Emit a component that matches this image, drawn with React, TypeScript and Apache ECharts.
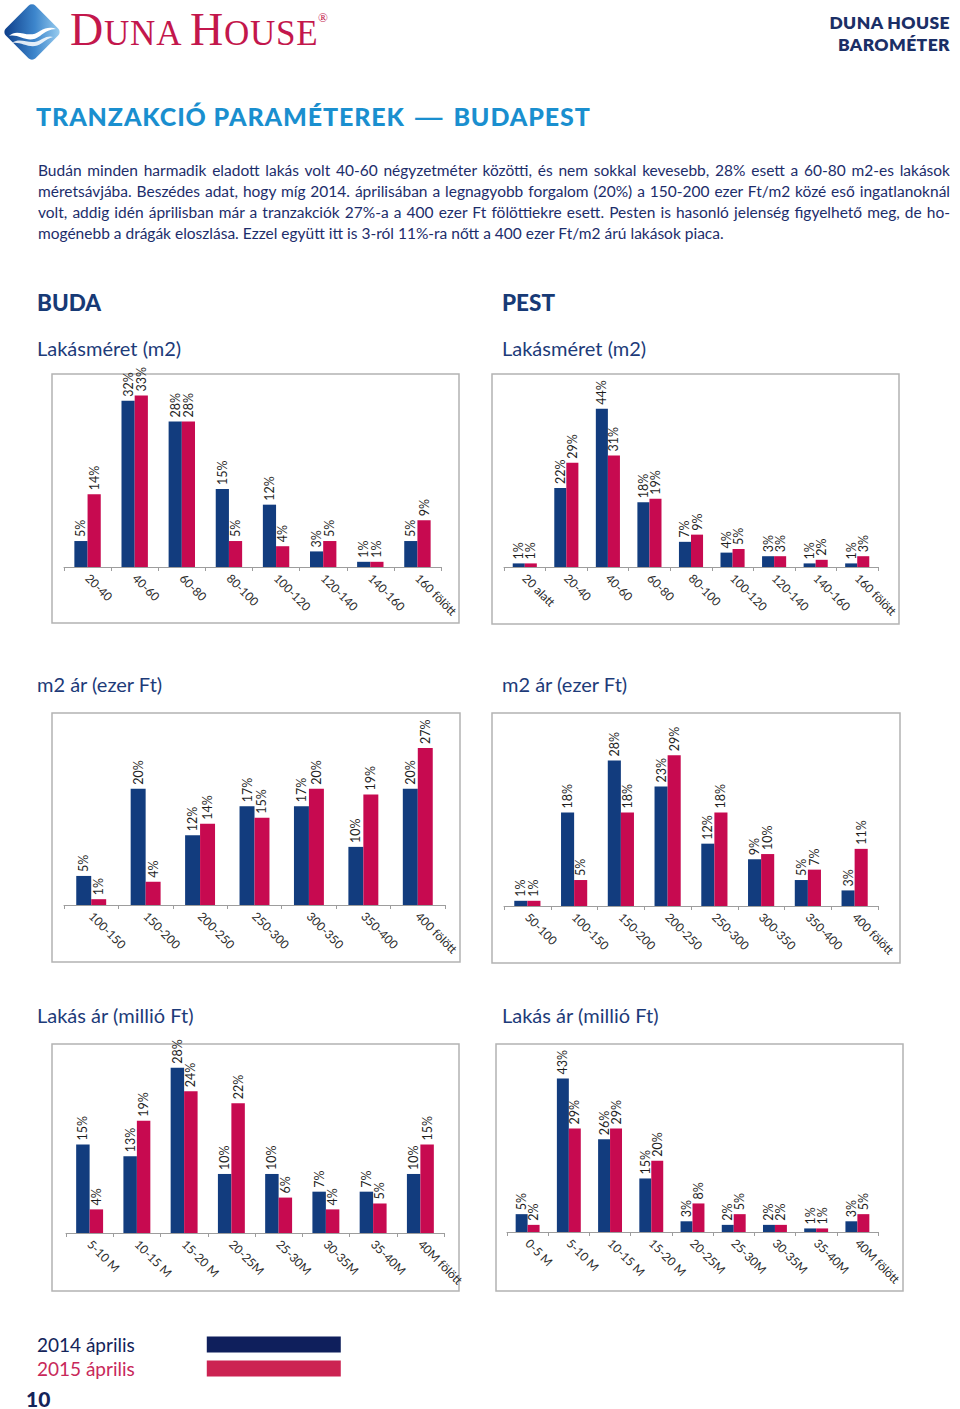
import React, { useEffect, useRef } from "react";
import * as echarts from "echarts";

// ---------- data ----------
const seriesNames = ["2014 április", "2015 április"];

const budaSizeCats = ["20-40", "40-60", "60-80", "80-100", "100-120", "120-140", "140-160", "160 fölött"];
const budaSize2014 = [5, 32, 28, 15, 12, 3, 1, 5];
const budaSize2015 = [14, 33, 28, 5, 4, 5, 1, 9];

const pestSizeCats = ["20 alatt", "20-40", "40-60", "60-80", "80-100", "100-120", "120-140", "140-160", "160 fölött"];
const pestSize2014 = [1, 22, 44, 18, 7, 4, 3, 1, 1];
const pestSize2015 = [1, 29, 31, 19, 9, 5, 3, 2, 3];

const budaSqmCats = ["100-150", "150-200", "200-250", "250-300", "300-350", "350-400", "400 fölött"];
const budaSqm2014 = [5, 20, 12, 17, 17, 10, 20];
const budaSqm2015 = [1, 4, 14, 15, 20, 19, 27];

const pestSqmCats = ["50-100", "100-150", "150-200", "200-250", "250-300", "300-350", "350-400", "400 fölött"];
const pestSqm2014 = [1, 18, 28, 23, 12, 9, 5, 3];
const pestSqm2015 = [1, 5, 18, 29, 18, 10, 7, 11];

const budaPriceCats = ["5-10 M", "10-15 M", "15-20 M", "20-25M", "25-30M", "30-35M", "35-40M", "40M fölött"];
const budaPrice2014 = [15, 13, 28, 10, 10, 7, 7, 10];
const budaPrice2015 = [4, 19, 24, 22, 6, 4, 5, 15];

const pestPriceCats = ["0-5 M", "5-10 M", "10-15 M", "15-20 M", "20-25M", "25-30M", "30-35M", "35-40M", "40M fölött"];
const pestPrice2014 = [5, 43, 26, 15, 3, 2, 2, 1, 3];
const pestPrice2015 = [2, 29, 29, 20, 8, 5, 2, 1, 5];

const paragraphLines = [
  "Budán minden harmadik eladott lakás volt 40-60 négyzetméter közötti, és nem sokkal kevesebb, 28% esett a 60-80 m2-es lakások",
  "méretsávjába. Beszédes adat, hogy míg 2014. áprilisában a legnagyobb forgalom (20%) a 150-200 ezer Ft/m2 közé eső ingatlanoknál",
  "volt, addig idén áprilisban már a tranzakciók 27%-a a 400 ezer Ft fölöttiekre esett. Pesten is hasonló jelenség figyelhető meg, de ho-",
  "mogénebb a drágák eloszlása. Ezzel együtt itt is 3-ról 11%-ra nőtt a 400 ezer Ft/m2 árú lakások piaca.",
];

// ---------- styling / layout ----------
const NAVY = "#123c7e";
const RED = "#c70a50";
const FONT = "Lato, 'Noto Sans', sans-serif";

const panels = [
  { cats: budaSizeCats, a: budaSize2014, b: budaSize2015, grid: { left: 64, top: 380, width: 377, height: 187 }, max: 36, gap: "44%", box: { x: 52, y: 374, width: 407, height: 249 } },
  { cats: pestSizeCats, a: pestSize2014, b: pestSize2015, grid: { left: 504, top: 380, width: 374, height: 187 }, max: 52, gap: "42%", box: { x: 492, y: 374, width: 407, height: 250 } },
  { cats: budaSqmCats, a: budaSqm2014, b: budaSqm2015, grid: { left: 64, top: 719, width: 381, height: 186 }, max: 32, gap: "45%", box: { x: 52, y: 713, width: 408, height: 249 } },
  { cats: pestSqmCats, a: pestSqm2014, b: pestSqm2015, grid: { left: 504, top: 719, width: 374, height: 187 }, max: 36, gap: "44%", box: { x: 492, y: 713, width: 408, height: 250 } },
  { cats: budaPriceCats, a: budaPrice2014, b: budaPrice2015, grid: { left: 66, top: 1050, width: 378, height: 183 }, max: 31, gap: "43%", box: { x: 52, y: 1044, width: 407, height: 247 } },
  { cats: pestPriceCats, a: pestPrice2014, b: pestPrice2015, grid: { left: 507, top: 1050, width: 371, height: 182 }, max: 51, gap: "42%", box: { x: 496, y: 1044, width: 407, height: 247 } },
];

function buildOption() {
  const grid: any[] = [];
  const xAxis: any[] = [];
  const yAxis: any[] = [];
  const series: any[] = [];
  const graphic: any[] = [];
  panels.forEach((p, i) => {
    grid.push({ ...p.grid, containLabel: false });
    xAxis.push({
      type: "category",
      gridIndex: i,
      data: p.cats,
      axisLine: { lineStyle: { color: "#9d9d9d", width: 1 } },
      axisTick: { show: true, length: 4, lineStyle: { color: "#9d9d9d" } },
      axisLabel: { rotate: -45, margin: 9, interval: 0, fontSize: 12, color: "#2a2a2a", fontFamily: FONT },
    });
    yAxis.push({ type: "value", gridIndex: i, min: 0, max: p.max, show: false, splitLine: { show: false } });
    [p.a, p.b].forEach((d, k) => {
      series.push({
        type: "bar",
        name: seriesNames[k],
        xAxisIndex: i,
        yAxisIndex: i,
        data: d,
        barGap: "0%",
        barCategoryGap: p.gap,
        itemStyle: { color: k === 0 ? NAVY : RED },
        label: {
          show: true,
          position: "top",
          rotate: 90,
          align: "left",
          verticalAlign: "middle",
          distance: 4,
          formatter: "{c}%",
          fontSize: 12.5,
          color: "#1e1e1e",
          fontFamily: FONT,
        },
      });
    });
    graphic.push({
      type: "rect",
      z: -10,
      shape: p.box,
      style: { fill: "none", stroke: "#b3b3b3", lineWidth: 1.5 },
    });
  });
  return {
    animation: false,
    backgroundColor: "transparent",
    grid,
    xAxis,
    yAxis,
    series,
    graphic,
    legend: {
      left: 37,
      top: 1335,
      padding: 0,
      orient: "vertical",
      align: "right",
      icon: "rect",
      itemWidth: 134,
      itemHeight: 16,
      itemGap: 5,
      selectedMode: false,
      textStyle: { fontFamily: FONT, fontSize: 19, padding: [0, 67, 0, 0] },
      data: [
        { name: seriesNames[0], itemStyle: { color: "#0f1f5c" }, textStyle: { color: "#14245a" } },
        { name: seriesNames[1], itemStyle: { color: "#cc2352" }, textStyle: { color: "#c8285a" } },
      ],
    },
  };
}

type TProps = { x: number; y: number; size: number; color: string; weight?: number; ls?: number; children: any; right?: boolean };
const T = ({ x, y, size, color, weight = 400, ls = 0, children, right }: TProps) => {
  const lh = Math.round(size * 1.4);
  const st: any = {
    position: "absolute",
    top: y - lh / 2,
    fontSize: size,
    lineHeight: lh + "px",
    color,
    fontWeight: weight,
    fontFamily: FONT,
    letterSpacing: ls,
    whiteSpace: "nowrap",
  };
  if (right) st.right = 960 - x;
  else st.left = x;
  return <div style={st}>{children}</div>;
};

const Logo = () => (
  <div style={{ position: "absolute", left: 0, top: 0 }}>
    <svg width="66" height="66" style={{ position: "absolute", left: 0, top: 0 }}>
      <defs>
        <linearGradient id="dhg" x1="1" y1="0" x2="0" y2="1">
          <stop offset="0" stopColor="#9fd2f2" />
          <stop offset="0.45" stopColor="#3d86cc" />
          <stop offset="1" stopColor="#0b3a86" />
        </linearGradient>
      </defs>
      <rect x="11" y="11" width="42" height="42" rx="5" transform="rotate(45 32 32)" fill="url(#dhg)" />
      <path d="M9 36 C 18 27, 28 40, 40 31 C 46 27, 52 27, 56 29 C 50 29, 45 32, 40 36 C 28 45, 19 33, 9 36 Z" fill="#ffffff" />
      <path d="M12 43 C 22 36, 30 47, 42 39 C 47 36, 51 36, 53 37 C 49 38, 46 40, 42 43 C 31 51, 22 41, 12 43 Z" fill="#ffffff" opacity="0.85" />
    </svg>
    <div style={{ position: "absolute", left: 70, top: 8, fontFamily: "'Liberation Serif', 'DejaVu Serif', serif", color: "#c3174c", whiteSpace: "nowrap", lineHeight: "44px", letterSpacing: 0.8 }}>
      <span style={{ fontSize: 46 }}>D</span>
      <span style={{ fontSize: 35 }}>UNA </span>
      <span style={{ fontSize: 46 }}>H</span>
      <span style={{ fontSize: 35 }}>OUSE</span>
    </div>
    <div style={{ position: "absolute", left: 318, top: 11, fontFamily: "'Liberation Serif', serif", color: "#c3174c", fontSize: 13, lineHeight: "13px" }}>®</div>
  </div>
);

export default function App() {
  const ref = useRef<HTMLDivElement>(null);
  useEffect(() => {
    const chart = echarts.init(ref.current as HTMLDivElement, undefined, { renderer: "svg" });
    chart.setOption(buildOption() as any);
    return () => chart.dispose();
  }, []);

  const paraColor = "#1c2d6b";
  return (
    <div style={{ position: "absolute", left: 0, top: 0, width: 960, height: 1409, background: "#ffffff", overflow: "hidden" }}>
      <div ref={ref} style={{ position: "absolute", left: 0, top: 0, width: 960, height: 1409 }} />
      <div style={{ position: "absolute", left: 0, top: 0, width: 960, height: 1409, pointerEvents: "none" }}>
        <Logo />
        <T x={950} y={22} size={17.5} color="#1b2f66" weight={800} ls={0.4} right>DUNA HOUSE</T>
        <T x={950} y={44} size={17.5} color="#1b2f66" weight={800} ls={0.4} right>BAROMÉTER</T>
        <T x={36} y={116} size={25} color="#1a8fcf" weight={900} ls={0.9}>
          TRANZAKCIÓ PARAMÉTEREK <span style={{ display: "inline-block", transform: "scaleX(1.6)", margin: "0 7px" }}>—</span> BUDAPEST
        </T>
        {paragraphLines.map((line, i) => (
          <div
            key={i}
            style={{
              position: "absolute",
              left: 38,
              top: 170 + i * 21 - 10.5,
              width: 912,
              height: 21,
              overflow: "hidden",
              fontFamily: FONT,
              fontSize: 15.5,
              lineHeight: "21px",
              color: paraColor,
              textAlign: "justify",
              textAlignLast: i < paragraphLines.length - 1 ? "justify" : "left",
            } as any}
          >
            {line}
          </div>
        ))}
        <T x={37} y={302} size={22.5} color="#173a76" weight={900}>BUDA</T>
        <T x={502} y={302} size={22.5} color="#173a76" weight={900}>PEST</T>
        <T x={37} y={348} size={20} color="#1d3b79">Lakásméret (m2)</T>
        <T x={502} y={348} size={20} color="#1d3b79">Lakásméret (m2)</T>
        <T x={37} y={684} size={20} color="#1d3b79">m2 ár (ezer Ft)</T>
        <T x={502} y={684} size={20} color="#1d3b79">m2 ár (ezer Ft)</T>
        <T x={37} y={1015} size={20} color="#1d3b79">Lakás ár (millió Ft)</T>
        <T x={502} y={1015} size={20} color="#1d3b79">Lakás ár (millió Ft)</T>
        <T x={26} y={1398} size={21} color="#14245a" weight={900}>10</T>
      </div>
    </div>
  );
}
